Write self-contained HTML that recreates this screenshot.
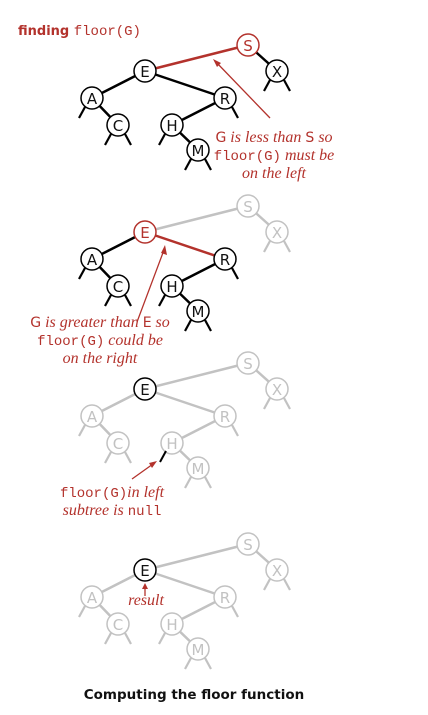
<!DOCTYPE html>
<html><head><meta charset="utf-8"><style>
html,body{margin:0;padding:0;background:#fff;width:428px;height:715px;overflow:hidden}
svg{display:block}
.lbl{font-family:"DejaVu Sans","Liberation Sans",sans-serif;font-size:15px;text-anchor:middle;dominant-baseline:central}
.it{font-family:"Liberation Serif",serif;font-style:italic;font-size:16px;fill:#b3322c}
.mono{font-family:"Liberation Mono",monospace;font-style:normal;font-size:14px;fill:#b3322c}
.sans{font-family:"DejaVu Sans","Liberation Sans",sans-serif;font-style:normal;font-size:14px;fill:#b3322c}
</style></head><body>
<svg id="s" width="428" height="715" viewBox="0 0 428 715">
<text x="18" y="35" style="font-family:'DejaVu Sans',sans-serif;font-size:13px;font-weight:bold;fill:#b3322c">finding <tspan class="mono" style="font-weight:normal">floor(G)</tspan></text>
<text x="194" y="699" text-anchor="middle" style="font-family:'DejaVu Sans',sans-serif;font-size:13.5px;font-weight:bold;fill:#111">Computing the floor function</text>

<line x1="270" y1="118" x2="216" y2="62" stroke="#b3322c" stroke-width="1.3"/>
<polygon points="213,59 221,63 217,67" fill="#b3322c"/>
<text class="it" text-anchor="middle"><tspan x="274" y="142"><tspan class="sans">G</tspan> is less than <tspan class="sans">S</tspan> so</tspan><tspan x="274" y="160"><tspan class="mono">floor(G)</tspan> must be</tspan><tspan x="274" y="178">on the left</tspan></text>

<line x1="137" y1="322" x2="164" y2="250" stroke="#b3322c" stroke-width="1.3"/>
<polygon points="165,245 167,255 161,253" fill="#b3322c"/>
<text class="it" text-anchor="middle"><tspan x="100" y="327"><tspan class="sans">G</tspan> is greater than <tspan class="sans">E</tspan> so</tspan><tspan x="100" y="345"><tspan class="mono">floor(G)</tspan> could be</tspan><tspan x="100" y="363">on the right</tspan></text>

<line x1="132" y1="479" x2="153" y2="464" stroke="#b3322c" stroke-width="1.3"/>
<polygon points="157,461 152,468 149,463" fill="#b3322c"/>
<line x1="166" y1="451" x2="160" y2="462" stroke="#000" stroke-width="2"/>
<text class="it" text-anchor="middle"><tspan x="112" y="497"><tspan class="mono">floor(G)</tspan>in left</tspan><tspan x="112" y="515">subtree is <tspan class="mono">null</tspan></tspan></text>

<line x1="145" y1="596" x2="145" y2="586" stroke="#b3322c" stroke-width="1.3"/>
<polygon points="145,583 148,589 142,589" fill="#b3322c"/>
<text class="it" x="146" y="605" text-anchor="middle">result</text>
</svg>
<script>
const keys=['S','X','E','A','R','C','H','M'];
const dx=[103,132,0,-53,80,-27,27,53];
const dy=[-26,0,0,27,27,54,54,79];
const parents=[-1,0,0,2,2,3,4,6];
const nulls=[[],[-1,1],[],[-1],[1],[-1,1],[-1],[-1,1]];
const treeY=[71,232,389,570];
const R='#b3322c',B='#000',G='#c2c2c2';
const nodeCol=[[R,B,B,B,B,B,B,B],[G,G,R,B,B,B,B,B],[G,G,B,G,G,G,G,G],[G,G,B,G,G,G,G,G]];
const edgeCol=[[R,B,R,B,B,B,B,B],[G,G,G,B,R,B,B,B],[G,G,G,G,G,G,G,G],[G,G,G,G,G,G,G,G]];
const svg=document.getElementById('s');
const NS='http://www.w3.org/2000/svg';
function mk(t,a){const e=document.createElementNS(NS,t);for(const k in a)e.setAttribute(k,a[k]);return e;}
const ex=145;
treeY.forEach((ey,t)=>{
  const g=mk('g',{});
  
  
  svg.insertBefore(g,svg.firstChild);
  const px=i=>ex+dx[i],py=i=>ey+dy[i];
  keys.forEach((k,i)=>{
    if(parents[i]>=0){
      const p=parents[i];
      const l=mk('line',{x1:px(p),y1:py(p),x2:px(i),y2:py(i),stroke:i===2?edgeCol[t][0]:edgeCol[t][i],'stroke-width':2.5});
      
      
      g.appendChild(l);
    }
    nulls[i].forEach(s=>{
      if(t===2&&i===6)return;
      const c=nodeCol[t][i]===G?G:B;
      const l=mk('line',{x1:px(i)+s*7,y1:py(i)+9,x2:px(i)+s*13,y2:py(i)+20,stroke:c,'stroke-width':2.2});
      
      
      g.appendChild(l);
    });
  });
  keys.forEach((k,i)=>{
    const c=nodeCol[t][i];
    const ci=mk('circle',{cx:px(i),cy:py(i),r:11,fill:'#fff',stroke:c,'stroke-width':1.5});
    
    
    g.appendChild(ci);
    const tx=mk('text',{x:px(i),y:py(i)+1,class:'lbl',fill:c===B?'#111':c});
    tx.textContent=k;
    
    
    g.appendChild(tx);
  });
});
</script>
</body></html>
